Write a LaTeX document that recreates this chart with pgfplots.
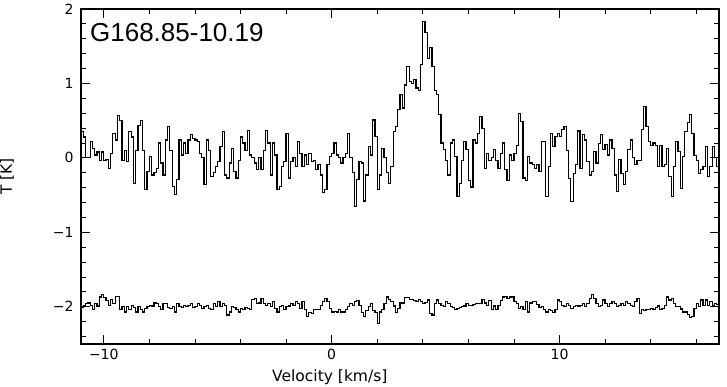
\documentclass[border=0pt]{standalone}
\usepackage{fontspec}
\setmainfont{Liberation Sans}
\newfontfamily\labfont{DejaVu Sans}
\usepackage{pgfplots}
\usepackage{pgfplotstable}
\pgfplotsset{compat=1.18}
\pgfplotstableread{
top bot
0.35 -2.01
0.28 -1.98
0.0 -1.96
0.0 -1.95
0.22 -1.98
0.13 -2.04
0.04 -1.96
0.08 -1.99
-0.03 -1.87
0.08 -1.84
-0.03 -1.88
-0.02 -1.92
-0.14 -1.98
0.06 -1.90
0.33 -1.96
0.24 -1.86
0.57 -1.86
0.5 -2.04
-0.03 -2.0
0.1 -2.07
-0.05 -2.0
0.35 -2.04
0.28 -1.98
-0.34 -2.01
0.1 -2.07
0.44 -2.0
0.5 -2.04
0.1 -2.07
-0.43 -2.02
-0.18 -2.0
0.02 -1.98
-0.23 -1.99
-0.2 -1.95
-0.14 -1.96
0.2 -2.0
-0.07 -2.04
-0.23 -1.96
0.24 -1.96
0.42 -2.01
0.1 -2.02
-0.38 -2.0
-0.49 -2.07
-0.29 -1.96
0.24 -2.0
0.04 -2.01
0.2 -1.98
0.06 -2.0
0.24 -1.98
0.31 -1.96
0.26 -2.01
0.24 -2.0
0.22 -1.96
0.06 -1.98
0.0 -2.02
-0.36 -2.0
0.24 -1.98
0.1 -2.02
-0.25 -2.04
-0.2 -1.96
-0.12 -2.0
-0.05 -1.93
0.15 -2.0
0.35 -1.96
-0.23 -1.98
-0.27 -2.11
-0.07 -2.07
0.13 -2.0
-0.18 -2.01
-0.27 -2.04
-0.03 -2.07
0.28 -2.02
0.2 -2.04
0.1 -2.01
0.37 -2.02
0.04 -2.04
0.0 -1.90
-0.07 -1.89
-0.16 -1.96
0.0 -1.95
-0.16 -1.89
0.1 -1.96
0.37 -1.98
0.2 -1.96
-0.23 -2.0
0.2 -1.93
0.04 -2.02
-0.43 -2.07
-0.38 -2.0
-0.12 -1.98
-0.05 -2.04
0.33 -2.0
-0.27 -1.99
-0.05 -1.96
0.0 -1.98
-0.12 -1.93
0.22 -1.96
0.06 -2.02
-0.12 -1.93
0.04 -2.04
-0.09 -2.13
0.06 -2.08
-0.05 -2.09
-0.03 -2.04
-0.16 -2.04
-0.09 -2.04
-0.23 -1.98
-0.47 -1.93
-0.43 -1.89
-0.09 -1.93
0.02 -2.02
0.06 -2.07
0.2 -2.06
0.04 -2.07
0.0 -2.04
-0.07 -2.07
0.0 -2.07
0.06 -2.04
0.33 -2.0
0.0 -1.96
-0.2 -1.98
-0.65 -1.93
-0.29 -1.92
-0.05 -1.98
-0.07 -2.08
-0.58 -2.13
-0.23 -2.05
0.15 -2.0
0.04 -1.96
0.51 -2.05
0.29 -2.08
-0.43 -2.22
-0.23 -2.07
0.13 -2.04
0.0 -1.96
-0.2 -1.87
-0.34 -1.90
-0.12 -1.93
0.35 -1.99
0.42 -2.08
0.65 -2.02
0.85 -1.95
0.67 -1.95
0.98 -1.88
1.23 -1.88
1.03 -1.90
1.0 -1.90
1.05 -1.92
0.94 -1.93
0.91 -1.90
1.25 -1.93
1.83 -1.96
1.68 -1.94
1.34 -1.91
1.48 -2.09
1.23 -2.11
0.91 -1.96
0.85 -1.91
0.58 -1.96
0.2 -1.98
0.11 -2.0
-0.03 -1.93
-0.23 -1.96
0.2 -2.0
0.24 -2.01
0.02 -2.04
-0.52 -2.02
-0.34 -2.01
-0.03 -2.0
0.22 -1.99
0.11 -1.96
-0.3 -1.98
-0.39 -1.98
0.24 -1.97
0.2 -1.96
0.33 -1.96
0.56 -1.96
0.4 -1.90
-0.14 -1.95
0.06 -1.98
-0.03 -1.92
0.0 -2.04
0.11 -1.99
-0.03 -2.04
-0.14 -1.98
0.06 -1.92
0.2 -1.87
-0.16 -1.86
-0.3 -1.89
0.04 -1.87
-0.03 -1.87
0.06 -1.93
0.17 -1.96
0.6 -2.02
0.49 -2.0
-0.27 -2.04
-0.3 -1.93
0.02 -2.07
-0.07 -1.95
-0.09 -1.93
-0.14 -1.93
-0.09 -1.97
-0.18 -2.01
0.22 -2.0
0.22 -2.04
-0.52 -2.07
-0.12 -2.04
0.33 -2.05
0.15 -2.08
0.29 -2.04
0.33 -1.91
0.29 -1.93
0.38 -1.98
0.42 -2.0
0.1 -1.96
-0.28 -1.98
-0.59 -2.02
-0.21 -2.0
-0.09 -1.98
0.36 -1.99
-0.14 -1.98
0.31 -1.96
0.24 -2.0
-0.05 -1.96
-0.23 -1.89
-0.18 -1.84
0.09 -1.89
-0.07 -1.96
0.19 -2.0
0.31 -1.98
0.11 -1.91
0.18 -1.96
0.04 -2.0
0.24 -1.96
0.13 -1.93
-0.23 -1.96
-0.45 -2.0
-0.02 -1.98
-0.21 -1.96
-0.36 -1.98
-0.18 -1.93
0.11 -1.96
0.24 -1.98
0.0 -2.0
-0.09 -1.93
-0.03 -1.89
-0.03 -2.09
0.38 -2.04
0.69 -2.05
0.42 -2.04
0.22 -2.04
0.17 -2.02
0.2 -2.04
0.17 -2.01
-0.12 -1.99
0.17 -2.04
-0.12 -2.02
-0.09 -1.98
0.13 -1.87
-0.25 -1.91
-0.52 -1.89
-0.12 -1.96
0.22 -2.0
0.09 -2.0
-0.41 -2.03
0.02 -2.07
0.35 -2.07
0.47 -2.1
0.58 -2.14
0.33 -2.13
0.03 -2.02
-0.03 -1.96
-0.21 -2.0
-0.16 -1.91
-0.12 -1.98
0.15 -1.91
-0.25 -1.98
-0.12 -1.93
0.15 -1.98
0.0 -1.96
-0.12 -1.97
-0.12 -1.97
}\spec
\begin{document}
\begin{tikzpicture}
\path[use as bounding box] (-81pt,-43pt) rectangle (646pt,344pt);
\begin{axis}[
  at={(0pt,0pt)}, anchor=south west,
  scale only axis, width=638pt, height=335pt,
  xmin=-11, xmax=17, ymin=-2.5, ymax=2,
  axis line style={line width=1.1pt},
  tick align=inside, tick style={black, line width=0.8pt},
  major tick length=9pt, minor tick length=5pt,
  xtick={-10,0,10}, xticklabels={−10,0,10},
  ytick={-2,-1,0,1,2}, yticklabels={−2,−1,0,1,2},
  minor xtick={-10,-8,...,16},
  minor ytick={-2.4,-2.2,-1.8,-1.6,-1.4,-1.2,-0.8,-0.6,-0.4,-0.2,0.2,0.4,0.6,0.8,1.2,1.4,1.6,1.8},
  ticklabel style={font=\labfont\fontsize{14}{16}\selectfont},
  xticklabel style={yshift=-2pt},
  yticklabel style={xshift=-4pt},
  xlabel={Velocity [km/s]}, ylabel={T [K]},
  label style={font=\labfont\fontsize{15.5}{18}\selectfont},
  xlabel style={at={(rel axis cs:0.39,0)}, anchor=north, inner sep=0pt, yshift=-26pt},
  ylabel style={at={(rel axis cs:0,0.5)}, anchor=south, inner sep=0pt, yshift=67pt},
  clip=true,
]
\addplot[const plot, black, line width=1.2pt] table[x expr={-11+0.1*\coordindex}, y=top] {\spec};
\addplot[const plot, black, line width=1.2pt] table[x expr={-11+0.1*\coordindex}, y=bot] {\spec};
\node[anchor=west, inner sep=0pt, font=\fontsize{26}{30}\selectfont] at (rel axis cs:0.014,0.93) {G168.85-10.19};
\end{axis}
\end{tikzpicture}
\end{document}
